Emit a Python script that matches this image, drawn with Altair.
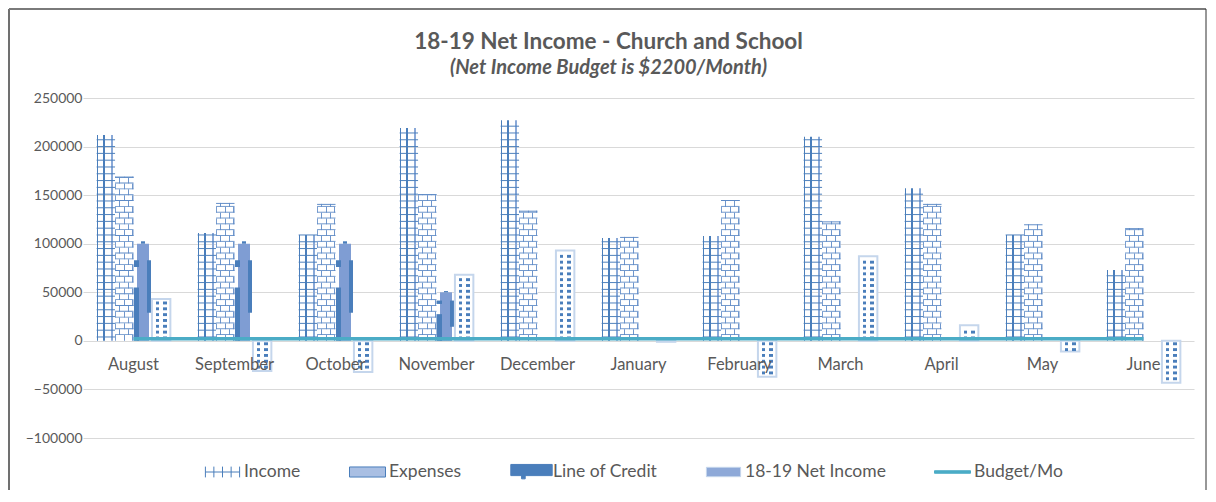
import altair as alt
import pandas as pd

# ---------------- data ----------------
months = ["August", "September", "October", "November", "December", "January",
          "February", "March", "April", "May", "June"]
series_names = ["Income", "Expenses", "Line of Credit", "18-19 Net Income"]
income = [212000, 111000, 109000, 219000, 227000, 106000, 108000, 210000, 157000, 109000, 73000]
expenses = [169000, 142000, 141000, 151000, 134000, 107000, 145000, 123000, 141000, 120000, 116000]
line_of_credit = [100000, 100000, 100000, 50000, 0, 0, 0, 0, 0, 0, 0]
net_income = [43000, -31000, -32000, 68000, 93000, -1000, -37000, 87000, 16000, -11000, -43000]
budget_per_month = [2200, 2200, 2200, 2200, 2200, 2200, 2200, 2200, 2200, 2200, 2200]
legend_names = ["Income", "Expenses", "Line of Credit", "18-19 Net Income", "Budget/Mo"]
y_ticks = [-100000, -50000, 0, 50000, 100000, 150000, 200000, 250000]

rows = []
for name, vals in zip(series_names, [income, expenses, line_of_credit, net_income]):
    for m, v in zip(months, vals):
        rows.append({"month": m, "series": name, "value": v})
bars_df = pd.DataFrame(rows)
budget_df = pd.DataFrame({"month": months, "budget": budget_per_month,
                          "series": ["Budget/Mo"] * len(months)})
legend_df = pd.DataFrame({"series": legend_names, "dummy": [None] * len(legend_names)})

# ---------------- style ----------------
BLUE = "#4A7EBB"
LIGHTBLUE = "#8AA9D8"
TEAL = "#4BACC6"
GRAY = "#595959"
FONT = "Lato"
CLEAR = "rgba(255,255,255,0)"


def stripes(bands, on, off=CLEAR):
    stops = [{"offset": 0, "color": off}]
    for a, b in bands:
        stops += [{"offset": a, "color": off}, {"offset": a, "color": on},
                  {"offset": b, "color": on}, {"offset": b, "color": off}]
    stops.append({"offset": 1, "color": off})
    return {"gradient": "linear", "x1": 0, "y1": 0, "x2": 1, "y2": 0, "stops": stops}


def multi(bands):
    stops = [{"offset": 0, "color": CLEAR}]
    for a, b, c in bands:
        stops += [{"offset": a, "color": CLEAR}, {"offset": a, "color": c},
                  {"offset": b, "color": c}, {"offset": b, "color": CLEAR}]
    stops.append({"offset": 1, "color": CLEAR})
    return {"gradient": "linear", "x1": 0, "y1": 0, "x2": 1, "y2": 0, "stops": stops}


x_enc = alt.X("month:N", title=None,
              scale=alt.Scale(domain=months, paddingInner=0.27, paddingOuter=0.135),
              axis=alt.Axis(domain=False, ticks=False, grid=False, labelAngle=0,
                            labelFont=FONT, labelFontSize=16.5, labelColor=GRAY,
                            labelPadding=15, offset=-97, zindex=1))
xo_enc = alt.XOffset("series:N", scale=alt.Scale(domain=series_names, paddingInner=0, paddingOuter=0))
y_scale = alt.Scale(domain=[-100000, 250000], nice=False, zero=False)
y_axis = alt.Axis(values=y_ticks, format="d", domain=False, ticks=False, title=None,
                  labelFont=FONT, labelFontSize=14, labelColor=GRAY, labelPadding=1,
                  gridColor="#D9D9D9", gridWidth=1)


def Y(field):
    return alt.Y(f"{field}:Q", scale=y_scale, axis=y_axis, stack=None, title=None)


base = alt.Chart(bars_df)


def sb(name):
    return base.transform_filter(alt.datum.series == name)


def row_lines(name, start, step, thick, fill):
    expr = (f"datum.value >= 0 ? sequence({start}, datum.value, {step}) "
            f": sequence({-start}, datum.value, {-step})")
    return (sb(name).transform_calculate(t=expr).transform_flatten(["t"])
            .transform_calculate(t2=f"datum.t + {thick}")
            .mark_bar(fill=fill)
            .encode(x=x_enc, xOffset=xo_enc, y=Y("t"), y2="t2:Q"))


# Income: grid pattern
income_bar = sb("Income").mark_bar(
    fill=multi([(0, 0.07, BLUE), (0.37, 0.44, BLUE), (0.8, 0.87, LIGHTBLUE)])
).encode(x=x_enc, xOffset=xo_enc, y=Y("value"))
income_lines = row_lines("Income", 3500, 7000, 1000, BLUE)

# Expenses: brick pattern
exp_bg = sb("Expenses").mark_bar(fill="white").encode(x=x_enc, xOffset=xo_enc, y=Y("value"))
brick_rows = (sb("Expenses")
              .transform_calculate(t="sequence(0, datum.value, 6000)")
              .transform_flatten(["t"])
              .transform_calculate(t2="min(datum.t + 6000, datum.value)",
                                   par="floor(datum.t / 6000) % 2"))
brick_even = brick_rows.transform_filter("datum.par == 0").mark_bar(
    fill=stripes([(0, 0.06), (0.47, 0.53), (0.94, 1)], "#6F96CC")
).encode(x=x_enc, xOffset=xo_enc, y=Y("t"), y2="t2:Q")
brick_odd = brick_rows.transform_filter("datum.par == 1").mark_bar(
    fill=stripes([(0.22, 0.28), (0.72, 0.78)], "#6F96CC")
).encode(x=x_enc, xOffset=xo_enc, y=Y("t"), y2="t2:Q")
exp_lines = row_lines("Expenses", 6000, 6000, 900, "#5D8AC6")
exp_top = (sb("Expenses").transform_calculate(t="datum.value - 1000")
           .mark_bar(fill="#5D8AC6")
           .encode(x=x_enc, xOffset=xo_enc, y=Y("t"), y2="value:Q"))

# Line of credit: stretched picture-like fill
loc = sb("Line of Credit").transform_filter("datum.value > 0")
loc_center = loc.mark_bar(fill=stripes([(0.2, 0.85)], "#7F9DD3")).encode(
    x=x_enc, xOffset=xo_enc, y=Y("value"))
loc_left = loc.transform_calculate(hi="0.55 * datum.value").mark_bar(
    fill=stripes([(0, 0.3)], BLUE)).encode(x=x_enc, xOffset=xo_enc, y=Y("hi"))
loc_right = loc.transform_calculate(lo="0.29 * datum.value", hi="0.83 * datum.value").mark_bar(
    fill=stripes([(0.72, 0.97)], BLUE)).encode(x=x_enc, xOffset=xo_enc, y=Y("lo"), y2="hi:Q")
loc_knob = loc.transform_calculate(lo="0.76 * datum.value", hi="0.83 * datum.value").mark_bar(
    fill=stripes([(0, 0.28)], BLUE)).encode(x=x_enc, xOffset=xo_enc, y=Y("lo"), y2="hi:Q")
loc_cap = loc.transform_calculate(hi="1.025 * datum.value").mark_bar(
    fill=stripes([(0.38, 0.62)], BLUE)).encode(x=x_enc, xOffset=xo_enc, y=Y("value"), y2="hi:Q")

# Net income: dotted pattern with light border
net_bar = sb("18-19 Net Income").mark_bar(fill="white", stroke="#C5D6EC", strokeWidth=2).encode(
    x=x_enc, xOffset=xo_enc, y=Y("value"))
net_dots = (sb("18-19 Net Income")
            .transform_calculate(c="datum.value >= 0 ? sequence(3000, datum.value - 1500, 6000) : sequence(-3000, datum.value + 1500, -6000)")
            .transform_flatten(["c"])
            .transform_calculate(t="datum.c - 1500", t2="datum.c + 1500")
            .mark_bar(fill=stripes([(0.2, 0.4), (0.6, 0.8)], BLUE))
            .encode(x=x_enc, xOffset=xo_enc, y=Y("t"), y2="t2:Q"))

# Budget line
budget_line = alt.Chart(budget_df).mark_line(color=TEAL, strokeWidth=3.5).encode(
    x=x_enc, y=Y("budget"))

# Legend (invisible points carrying shape/fill/stroke scales)
leg = dict(orient="none", legendX=121, legendY=355, direction="horizontal", title=None,
           labelFont=FONT, labelFontSize=17.5, labelColor=GRAY, columnPadding=46,
           labelOffset=3, symbolSize=1296, symbolOpacity=1, symbolStrokeWidth=1,
           symbolFillColor="transparent", symbolStrokeColor=BLUE, padding=0)
shapes = [
    "M-0.95,0H0.95M-0.95,-0.3V0.3M-0.48,-0.3V0.3M0,-0.3V0.3M0.48,-0.3V0.3M0.95,-0.3V0.3",
    "M-1,-0.28H1V0.28H-1Z",
    "M-1.15,-0.4H1.15V0.22H-1.15ZM-0.55,0.22H-0.35V0.4H-0.55Z",
    "M-0.95,-0.26H0.95V0.26H-0.95Z",
    "M-1,-0.07H1V0.07H-1Z",
]
fills = ["transparent", "#A9BFE3", BLUE, "#8EA9D8", TEAL]
strokes = [BLUE, BLUE, BLUE, "#C5D6EC", TEAL]
legend_layer = alt.Chart(legend_df).mark_point(opacity=0, filled=True).encode(
    y=Y("dummy"),
    shape=alt.Shape("series:N", scale=alt.Scale(domain=legend_names, range=shapes), legend=alt.Legend(**leg)),
    fill=alt.Fill("series:N", scale=alt.Scale(domain=legend_names, range=fills), legend=alt.Legend(**leg)),
    stroke=alt.Stroke("series:N", scale=alt.Scale(domain=legend_names, range=strokes), legend=alt.Legend(**leg)),
)

# Chart border (decoration)
frame_df = pd.DataFrame({"k": [0]})
border_left = alt.Chart(frame_df).mark_rule(color="#707070", strokeWidth=2).encode(
    x=alt.value(-74), y=alt.value(-89), y2=alt.value(400))
border_top = alt.Chart(frame_df).mark_rule(color="#7A7A7A", strokeWidth=2).encode(
    x=alt.value(-74), x2=alt.value(1123), y=alt.value(-89))
border_right = alt.Chart(frame_df).mark_rule(color="#303030", strokeWidth=1).encode(
    x=alt.value(1123), y=alt.value(-89), y2=alt.value(400))

chart = alt.layer(
    income_bar, income_lines,
    exp_bg, brick_even, brick_odd, exp_lines, exp_top,
    loc_center, loc_left, loc_right, loc_knob, loc_cap,
    net_bar, net_dots,
    budget_line, legend_layer,
    border_left, border_top, border_right,
).properties(
    width=1111, height=340,
    autosize=alt.AutoSizeParams(type="none"),
    padding={"left": 75, "top": 90, "right": 13, "bottom": 52},
    background="white",
    title=alt.TitleParams(
        text="18-19 Net Income - Church and School",
        subtitle="(Net Income Budget is $2200/Month)",
        anchor="middle", frame="group", dx=-30, offset=-70,
        font=FONT, fontSize=22.5, fontWeight="bold", color=GRAY,
        subtitleFont=FONT, subtitleFontSize=20, subtitleFontStyle="italic",
        subtitleFontWeight="bold", subtitleColor=GRAY, subtitlePadding=5,
    ),
).configure_view(stroke=None)

chart.save("out.html", embed_options={"renderer": "svg", "actions": False})
